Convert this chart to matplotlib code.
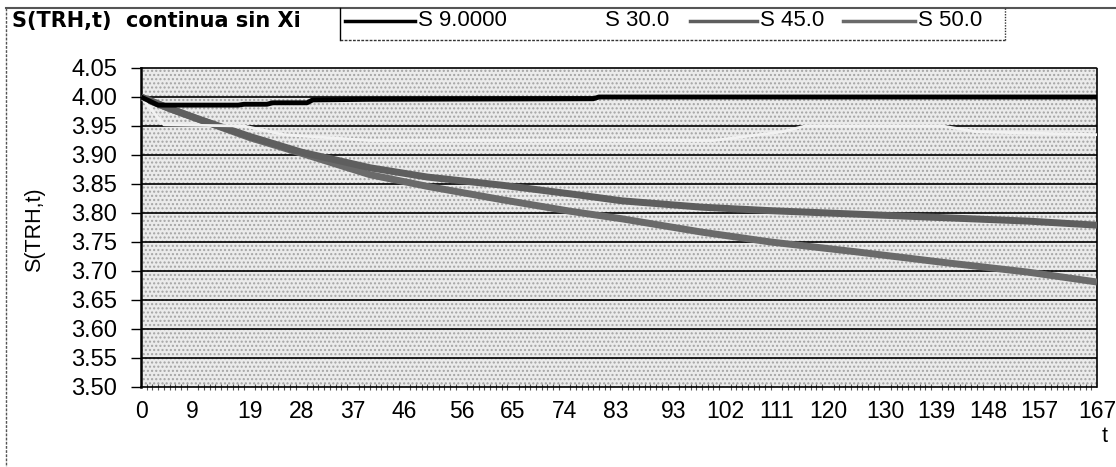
import matplotlib.pyplot as plt
from matplotlib.lines import Line2D
from matplotlib.ticker import MultipleLocator

plt.rcParams['font.family'] = ['Liberation Sans', 'DejaVu Sans']

# series values, read at selected t
t_s9 = [0, 3, 17, 18, 22, 23, 29, 30, 40, 79, 80, 167]
s9 = [4.000, 3.986, 3.986, 3.9875, 3.9875, 3.990, 3.990, 3.995, 3.996, 3.997, 4.000, 4.000]

t_s30 = [0, 4, 18, 25, 40, 100, 112, 116, 140, 146, 167]
s30 = [4.000, 3.952, 3.950, 3.935, 3.925, 3.925, 3.940, 3.950, 3.950, 3.940, 3.935]

t_s45 = [0, 5, 10, 19, 28, 40, 50, 63, 75, 84, 98, 110, 125, 140, 155, 167]
s45 = [4.000, 3.980, 3.962, 3.932, 3.905, 3.878, 3.862, 3.848, 3.833, 3.821,
       3.810, 3.804, 3.798, 3.792, 3.786, 3.779]

t_s50 = [0, 5, 10, 19, 28, 40, 50, 63, 75, 84, 98, 110, 125, 140, 155, 167]
s50 = [4.000, 3.980, 3.962, 3.930, 3.903, 3.866, 3.846, 3.823, 3.803, 3.790,
       3.767, 3.750, 3.733, 3.715, 3.698, 3.681]

x_ticks = [0, 9, 19, 28, 37, 46, 56, 65, 74, 83, 93, 102, 111, 120, 130, 139, 148, 157, 167]
y_ticks = [3.50, 3.55, 3.60, 3.65, 3.70, 3.75, 3.80, 3.85, 3.90, 3.95, 4.00, 4.05]

labels = ['S 9.0000', 'S 30.0', 'S 45.0', 'S 50.0']
colors = ['black', '#f2f2f2', '#5e5e5e', '#6a6a6a']
widths = [3.5, 2.0, 5.0, 5.0]

W, H = 1116, 467
fig = plt.figure(figsize=(W / 100, H / 100), dpi=100)
fig.patch.set_facecolor('white')


def fx(px):
    return px / W


def fy(py):
    return 1 - py / H


ax = fig.add_axes([fx(141), fy(387), fx(1097) - fx(141), fy(68) - fy(387)])
ax.set_facecolor('#ebebeb')
ax.patch.set_hatch('....')
ax.patch.set_edgecolor('#a4a4a4')
ax.patch.set_linewidth(0)

for yv in y_ticks[1:-1]:
    ax.axhline(yv, color='black', lw=1.2, zorder=1)

series = [(t_s9, s9), (t_s30, s30), (t_s45, s45), (t_s50, s50)]
for (tt, ss), c, lw in zip(series[::-1], colors[::-1], widths[::-1]):
    ax.plot(tt, ss, color=c, lw=lw, solid_capstyle='butt', zorder=3)

ax.set_xlim(0, 167)
ax.set_ylim(3.50, 4.05)
ax.set_xticks(x_ticks)
ax.set_xticklabels([str(v) for v in x_ticks])
ax.xaxis.set_minor_locator(MultipleLocator(1))
ax.set_yticks(y_ticks)
ax.set_yticklabels([f'{v:.2f}' for v in y_ticks])
ax.tick_params(axis='y', labelsize=17, length=7, width=1, pad=10)
ax.tick_params(axis='x', which='major', labelsize=16.5, length=0, pad=9)
ax.tick_params(axis='x', which='minor', length=4, width=0.8, direction='inout', color='#555555')

ax.spines['left'].set_linewidth(1.8)
for side in ['top', 'right', 'bottom']:
    ax.spines[side].set_linestyle((0, (1, 1)))
    ax.spines[side].set_linewidth(1.2)

fig.text(fx(35), fy(230), 'S(TRH,t)', rotation=90, fontsize=15.5, ha='center', va='center')
fig.text(fx(1105), fy(437), 't', fontsize=15.5, ha='center', va='center')

# title cell and legend box along the top edge
fig.text(fx(12), fy(21), 'S(TRH,t)  continua sin Xi', fontsize=15, fontweight='bold',
         family=['DejaVu Sans'], ha='left', va='center')
frame = [
    ([6, 1116], [8, 8], '-', 1.5, '#555555'),
    ([6, 6], [8, 467], (0, (2, 1)), 1.0, '#555555'),
    ([340, 340], [8, 40], '-', 1.0, 'black'),
    ([340, 1005], [40, 40], (0, (2, 1)), 1.0, '#333333'),
    ([1005, 1005], [8, 40], (0, (1, 1)), 1.0, '#333333'),
]
for xs, ys, ls, lw, c in frame:
    fig.add_artist(Line2D([fx(v) for v in xs], [fy(v) for v in ys], ls=ls, lw=lw, color=c))

handle_x = [345, 535, 690, 843]
text_x = [418, 605, 760, 918]
for hx, tx, lab, c, lw in zip(handle_x, text_x, labels, colors, widths):
    if c != '#f2f2f2':
        fig.add_artist(Line2D([fx(hx), fx(tx - 3)], [fy(21), fy(21)], color=c, lw=2.5))
    fig.text(fx(tx), fy(21), lab, fontsize=16, ha='left', va='center')

fig.savefig('out.png', dpi=100)
